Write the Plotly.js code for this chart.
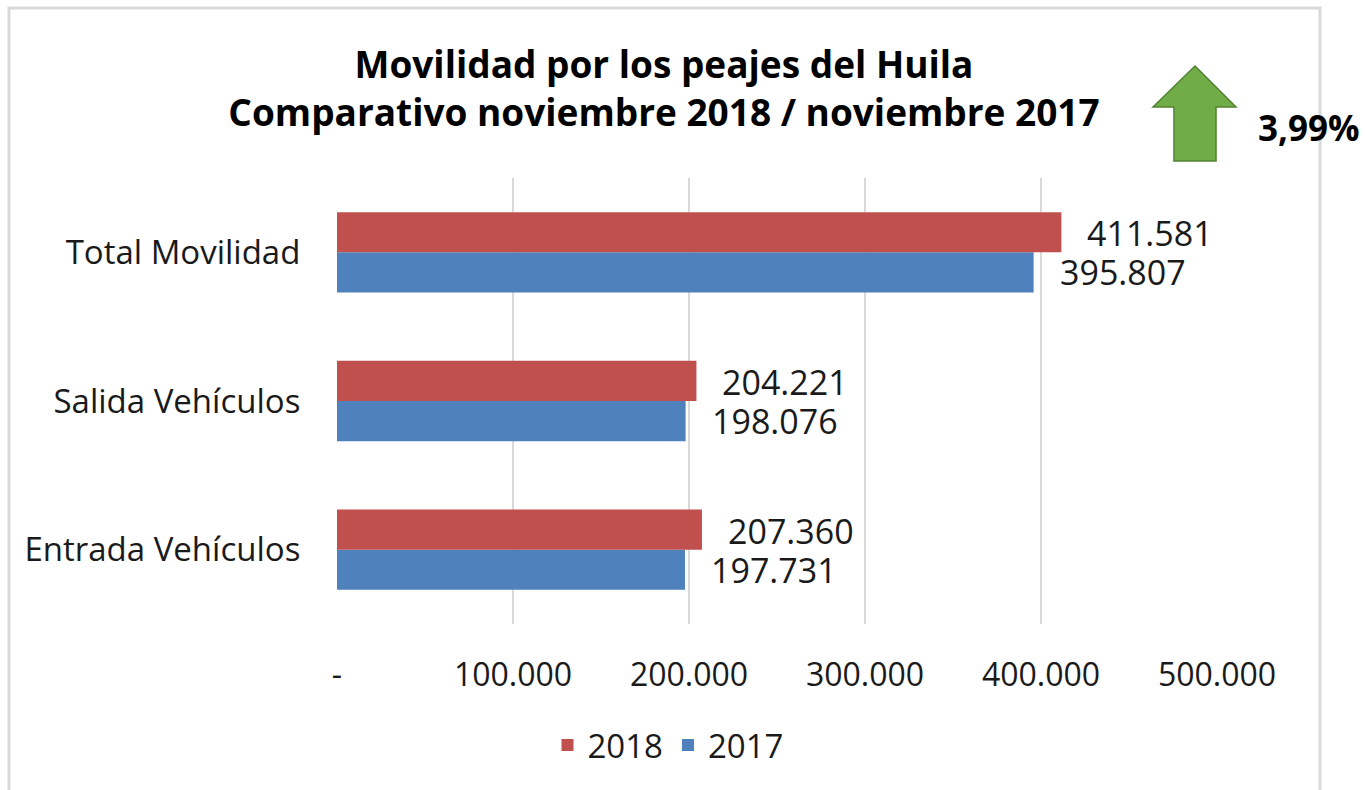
<!DOCTYPE html>
<html>
<head>
<meta charset="utf-8">
<script src="https://cdn.plot.ly/plotly-3.0.1.min.js"></script>
<style>html,body{margin:0;padding:0;background:#fff;}#chart{width:1365px;height:790px;}</style>
</head>
<body>
<div id="chart"></div>
<script>
var categories = ["Entrada Vehículos", "Salida Vehículos", "Total Movilidad"];
var values2018 = [207360, 204221, 411581];
var values2017 = [197731, 198076, 395807];
var labels2018 = ["207.360", "204.221", "411.581"];
var labels2017 = ["197.731", "198.076", "395.807"];
var tickVals = [0, 100000, 200000, 300000, 400000, 500000];
var tickText = ["-", "100.000", "200.000", "300.000", "400.000", "500.000"];
var changeText = "3,99%";

var W = 1365, H = 790, L = 337, R = 148, T = 178, B = 166;
var pw = W - L - R, ph = H - T - B;
function px(X) { return (X - L) / pw; }
function py(Y) { return (H - B - Y) / ph; }

var font = "Open Sans, sans-serif";
var red = "#C0504D", blue = "#4F81BD";

var traces = [
  {type: "bar", orientation: "h", name: "2017", y: categories, x: values2017,
   marker: {color: blue}, hoverinfo: "x"},
  {type: "bar", orientation: "h", name: "2018", y: categories, x: values2018,
   marker: {color: red}, hoverinfo: "x"}
];

var annotations = [];
for (var i = 0; i < categories.length; i++) {
  annotations.push({x: values2018[i], y: categories[i], xref: "x", yref: "y", text: labels2018[i],
    showarrow: false, xanchor: "left", yanchor: "middle", xshift: 24, yshift: 19,
    font: {family: font, size: 34, color: "#1a1a1a"}});
  annotations.push({x: values2017[i], y: categories[i], xref: "x", yref: "y", text: labels2017[i],
    showarrow: false, xanchor: "left", yanchor: "middle", xshift: 24, yshift: -20,
    font: {family: font, size: 34, color: "#1a1a1a"}});
}
annotations.push({xref: "paper", yref: "paper", x: px(1256), y: py(128), text: "<b>" + changeText + "</b>",
  showarrow: false, xanchor: "left", yanchor: "middle",
  font: {family: font, size: 35, color: "#000"}});

var arrowPts = [[1195,66],[1236,107],[1216,107],[1216,161],[1174,161],[1174,107],[1153,107]];
var path = arrowPts.map(function(p, k){ return (k ? "L" : "M") + px(p[0]).toFixed(4) + "," + py(p[1]).toFixed(4); }).join(" ") + " Z";

var layout = {
  width: W, height: H,
  margin: {l: L, r: R, t: T, b: B, pad: 0},
  paper_bgcolor: "#fff", plot_bgcolor: "#fff",
  title: {text: "<b>Movilidad por los peajes del Huila<br>Comparativo noviembre 2018 / noviembre 2017</b>",
    xref: "container", yref: "container", x: 664 / W, y: 1 - 78 / H, xanchor: "center", yanchor: "middle",
    font: {family: font, size: 37, color: "#000"}},
  barmode: "group", bargap: 0.46, bargroupgap: 0,
  xaxis: {range: [0, 500000], tickvals: tickVals, ticktext: tickText,
    showgrid: true, gridcolor: "#d9d9d9", gridwidth: 2, zeroline: false, showline: false,
    ticks: "outside", ticklen: 23, tickcolor: "rgba(0,0,0,0)",
    tickfont: {family: font, size: 32, color: "#1a1a1a"}, fixedrange: true},
  yaxis: {showgrid: false, zeroline: false, showline: false,
    ticks: "outside", ticklen: 29, tickcolor: "rgba(0,0,0,0)",
    tickfont: {family: font, size: 33, color: "#1a1a1a"}, fixedrange: true},
  showlegend: true,
  legend: {orientation: "h", traceorder: "reversed", x: px(668), y: py(745), xanchor: "center", yanchor: "middle",
    font: {family: font, size: 33, color: "#1a1a1a"}, bgcolor: "rgba(0,0,0,0)"},
  annotations: annotations,
  shapes: [
    {type: "rect", xref: "paper", yref: "paper", x0: px(9), x1: px(1320), y0: py(810), y1: py(8),
      line: {color: "#d9d9d9", width: 3}, fillcolor: "rgba(0,0,0,0)", layer: "below"},
    {type: "path", xref: "paper", yref: "paper", path: path,
      fillcolor: "#70AD47", line: {color: "#548235", width: 1.5}}
  ]
};

Plotly.newPlot("chart", traces, layout, {displayModeBar: false, staticPlot: true});
</script>
</body>
</html>
